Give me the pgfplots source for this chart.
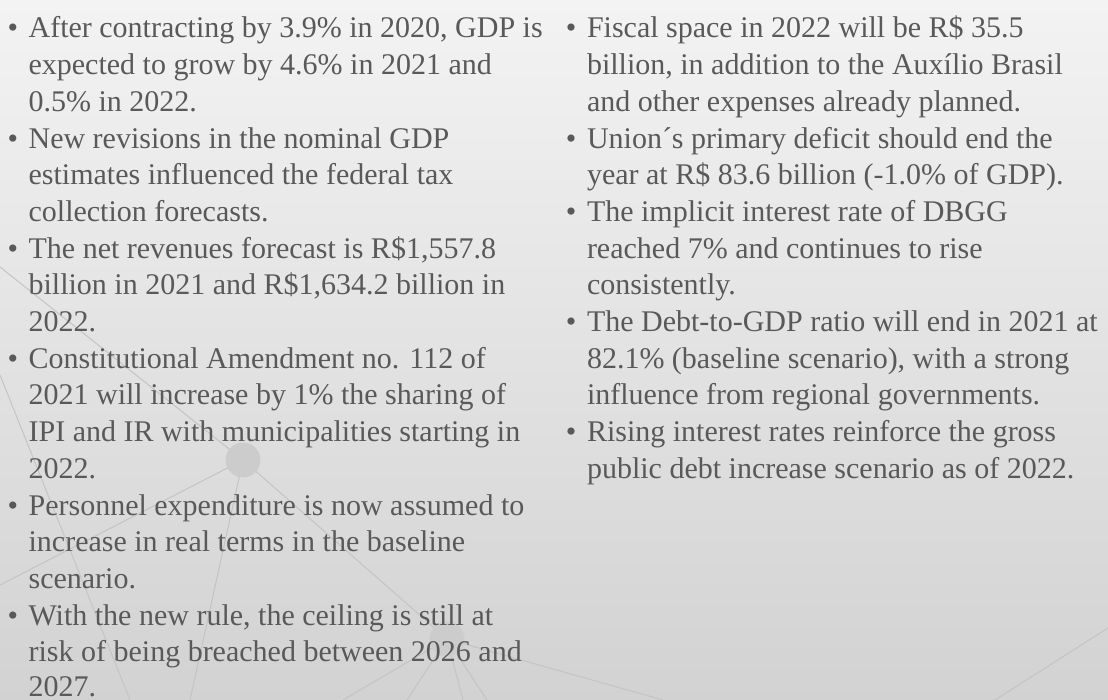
\documentclass[border=0pt]{standalone}
\usepackage{pgfplots}
\pgfplotsset{compat=1.18}
\usepackage{fontspec}
\setmainfont{Liberation Serif}
\definecolor{txt}{RGB}{89,89,89}
\definecolor{bgtop}{RGB}{243,243,243}
\definecolor{bgbot}{RGB}{210,210,210}
\definecolor{net}{RGB}{196,196,196}
\definecolor{dotc}{RGB}{204,204,204}
\newcommand\fs{\fontsize{15}{18}\selectfont}
\tikzset{tx/.style={inner sep=0pt,outer sep=0pt,text=txt,font=\fs}}
\begin{document}
\begin{tikzpicture}
\fill[top color=bgtop,bottom color=bgbot] (0,0) rectangle (554pt,350pt);
\begin{axis}[at={(0,0)},anchor=south west,width=554pt,height=350pt,scale only axis,
  xmin=0,xmax=1108,ymin=0,ymax=700,y dir=reverse,hide axis,clip=false]
% faint network
\addplot[net,line width=0.5pt] coordinates {(0,267) (243,460)};
\addplot[net,line width=0.5pt] coordinates {(0,375) (130,700)};
\addplot[net,line width=0.5pt] coordinates {(243,460) (0,585)};
\addplot[net,line width=0.5pt] coordinates {(243,460) (190,700)};
\addplot[net,line width=0.5pt] coordinates {(243,460) (447,639)};
\addplot[net,line width=0.5pt] coordinates {(447,639) (343,700)};
\addplot[net,line width=0.5pt] coordinates {(447,639) (407,700)};
\addplot[net,line width=0.5pt] coordinates {(447,639) (463,700)};
\addplot[net,line width=0.5pt] coordinates {(447,639) (487,700)};
\addplot[net,line width=0.5pt] coordinates {(447,639) (663,700)};
\addplot[net,line width=0.5pt] coordinates {(1108,628) (995,700)};
\addplot[dotc,only marks,mark=*,mark size=8.5pt,mark options={draw=dotc,fill=dotc}] coordinates {(243,460) (447,639)};
\end{axis}
\begin{scope}[x=0.5pt,y=-0.5pt,shift={(0pt,350pt)}]
% left column bullets
\node[tx,anchor=base] at (13,38) {\textbullet};
\node[tx,anchor=base] at (13,148.1) {\textbullet};
\node[tx,anchor=base] at (13,258.2) {\textbullet};
\node[tx,anchor=base] at (13,368.3) {\textbullet};
\node[tx,anchor=base] at (13,515.1) {\textbullet};
\node[tx,anchor=base] at (13,625.2) {\textbullet};
% left column text
\node[tx,anchor=base west] at (28.6,38) {After contracting by 3.9\% in 2020, GDP is};
\node[tx,anchor=base west] at (28.6,74.7) {expected to grow by 4.6\% in 2021 and};
\node[tx,anchor=base west] at (28.6,111.4) {0.5\% in 2022.};
\node[tx,anchor=base west] at (28.6,148.1) {New revisions in the nominal GDP};
\node[tx,anchor=base west] at (28.6,184.8) {estimates influenced the federal tax};
\node[tx,anchor=base west] at (28.6,221.5) {collection forecasts.};
\node[tx,anchor=base west] at (28.6,258.2) {The net revenues forecast is R\$1,557.8};
\node[tx,anchor=base west] at (28.6,294.9) {billion in 2021 and R\$1,634.2 billion in};
\node[tx,anchor=base west] at (28.6,331.6) {2022.};
\node[tx,anchor=base west] at (28.6,368.3) {Constitutional Amendment no. 112 of};
\node[tx,anchor=base west] at (28.6,405) {2021 will increase by 1\% the sharing of};
\node[tx,anchor=base west] at (28.6,441.7) {IPI and IR with municipalities starting in};
\node[tx,anchor=base west] at (28.6,478.4) {2022.};
\node[tx,anchor=base west] at (28.6,515.1) {Personnel expenditure is now assumed to};
\node[tx,anchor=base west] at (28.6,551.8) {increase in real terms in the baseline};
\node[tx,anchor=base west] at (28.6,588.5) {scenario.};
\node[tx,anchor=base west] at (28.6,625.2) {With the new rule, the ceiling is still at};
\node[tx,anchor=base west] at (28.6,661.9) {risk of being breached between 2026 and};
\node[tx,anchor=base west] at (28.6,697) {2027.};
% right column bullets
\node[tx,anchor=base] at (571,38) {\textbullet};
\node[tx,anchor=base] at (571,148.1) {\textbullet};
\node[tx,anchor=base] at (571,221.5) {\textbullet};
\node[tx,anchor=base] at (571,331.6) {\textbullet};
\node[tx,anchor=base] at (571,441.7) {\textbullet};
% right column text
\node[tx,anchor=base west] at (587,38) {Fiscal space in 2022 will be R\$ 35.5};
\node[tx,anchor=base west] at (587,74.7) {billion, in addition to the Auxílio Brasil};
\node[tx,anchor=base west] at (587,111.4) {and other expenses already planned.};
\node[tx,anchor=base west] at (587,148.1) {Union´s primary deficit should end the};
\node[tx,anchor=base west] at (587,184.8) {year at R\$ 83.6 billion (-1.0\% of GDP).};
\node[tx,anchor=base west] at (587,221.5) {The implicit interest rate of DBGG};
\node[tx,anchor=base west] at (587,258.2) {reached 7\% and continues to rise};
\node[tx,anchor=base west] at (587,294.9) {consistently.};
\node[tx,anchor=base west] at (587,331.6) {The Debt-to-GDP ratio will end in 2021 at};
\node[tx,anchor=base west] at (587,368.3) {82.1\% (baseline scenario), with a strong};
\node[tx,anchor=base west] at (587,405) {influence from regional governments.};
\node[tx,anchor=base west] at (587,441.7) {Rising interest rates reinforce the gross};
\node[tx,anchor=base west] at (587,478.4) {public debt increase scenario as of 2022.};
\end{scope}
\pgfresetboundingbox
\useasboundingbox (0,0) rectangle (554pt,350pt);
\end{tikzpicture}
\end{document}
